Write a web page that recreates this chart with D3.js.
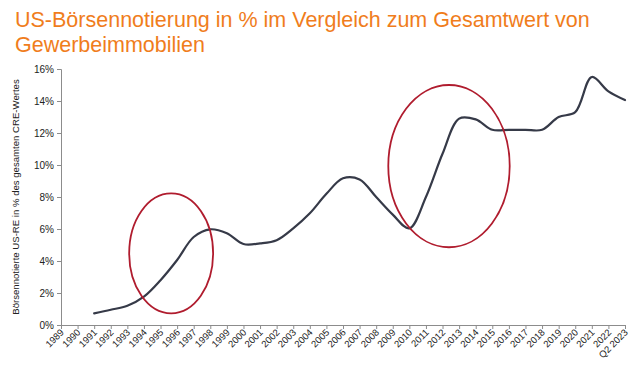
<!DOCTYPE html>
<html>
<head>
<meta charset="utf-8">
<script src="https://cdn.jsdelivr.net/npm/d3@7"></script>
<style>
  body { margin: 0; background: #fff; }
  text { font-family: "Liberation Sans", Arial, sans-serif; }
</style>
</head>
<body>
<div id="chart"></div>
<script>
const categories = [
  '1989', '1990', '1991', '1992', '1993', '1994', '1995', '1996', '1997', '1998',
  '1999', '2000', '2001', '2002', '2003', '2004', '2005', '2006', '2007', '2008',
  '2009', '2010', '2011', '2012', '2013', '2014', '2015', '2016', '2017', '2018',
  '2019', '2020', '2021', '2022', 'Q2 2023',
];
// share of listed US real estate in total CRE value (%), null = no data
const shares = [
  null, null, 0.73, 0.95, 1.2, 1.77, 2.8, 4.06, 5.5, 5.98,
  5.73, 5.06, 5.1, 5.3, 6.04, 6.98, 8.2, 9.17, 9.1, 8.0,
  6.9, 6.04, 8.0, 10.7, 12.9, 12.85, 12.2, 12.2, 12.2, 12.2,
  13.0, 13.3, 15.5, 14.6, 14.06,
];
const yTicks = [0, 2, 4, 6, 8, 10, 12, 14, 16];
// highlighted regions: centre (category index, %) and radii (categories, %)
const highlights = [
  { cx: 6.64, cy: 4.48, rx: 2.53, ry: 3.75 },
  { cx: 23.39, cy: 9.93, rx: 3.66, ry: 5.07 },
];

const width = 640;
const height = 375;
const margin = { top: 69, right: 15, bottom: 50, left: 61 };

const svg = d3.select('#chart').append('svg')
  .attr('width', width)
  .attr('height', height);

const x = d3.scaleLinear()
  .domain([0, categories.length - 1])
  .range([margin.left, width - margin.right]);
const y = d3.scaleLinear()
  .domain([0, 16])
  .range([height - margin.bottom, margin.top]);

// title
svg.append('text')
  .attr('x', 15)
  .attr('y', 27)
  .attr('fill', '#f07d1c')
  .style('font-size', '21.5px')
  .selectAll('tspan')
  .data(['US-Börsennotierung in % im Vergleich zum Gesamtwert von', 'Gewerbeimmobilien'])
  .join('tspan')
  .attr('x', 15)
  .attr('dy', (_, i) => (i === 0 ? 0 : 25))
  .text(d => d);

// axes
const xAxis = g => g
  .attr('transform', `translate(0, ${y(0)})`)
  .call(d3.axisBottom(x)
    .tickValues(d3.range(categories.length))
    .tickSize(4)
    .tickFormat(i => categories[i]));
const yAxis = g => g
  .attr('transform', `translate(${margin.left}, 0)`)
  .call(d3.axisLeft(y)
    .tickValues(yTicks)
    .tickSize(4)
    .tickFormat(d => d + '%'));

const gx = svg.append('g').call(xAxis);
gx.selectAll('text')
  .attr('fill', '#222')
  .style('font-size', '9.5px')
  .attr('text-anchor', 'end')
  .attr('dy', null)
  .attr('y', 0)
  .attr('transform', 'translate(3, 8) rotate(-45)');
const gy = svg.append('g').call(yAxis);
gy.selectAll('text')
  .attr('fill', '#222')
  .style('font-size', '10px');
svg.selectAll('.domain, .tick line').attr('stroke', '#8c8c8c');

svg.append('text')
  .attr('transform', `translate(19, ${(y(0) + y(16)) / 2}) rotate(-90)`)
  .attr('text-anchor', 'middle')
  .attr('fill', '#222')
  .style('font-size', '9.6px')
  .text('Börsennotierte US-RE in % des gesamten CRE-Wertes');

// data line
const lineFn = d3.line()
  .defined(d => d != null)
  .x((_, i) => x(i))
  .y(d => y(d))
  .curve(d3.curveCatmullRom.alpha(0.5));

svg.append('path')
  .attr('fill', 'none')
  .attr('stroke', '#363a48')
  .attr('stroke-width', 2.2)
  .attr('stroke-linejoin', 'round')
  .attr('stroke-linecap', 'round')
  .attr('d', lineFn(shares));

// red ellipses
svg.selectAll('ellipse.hl')
  .data(highlights)
  .join('ellipse')
  .attr('class', 'hl')
  .attr('cx', d => x(d.cx))
  .attr('cy', d => y(d.cy))
  .attr('rx', d => x(d.rx) - x(0))
  .attr('ry', d => y(0) - y(d.ry))
  .attr('fill', 'none')
  .attr('stroke', '#b01c2e')
  .attr('stroke-width', 1.8);
</script>
</body>
</html>
